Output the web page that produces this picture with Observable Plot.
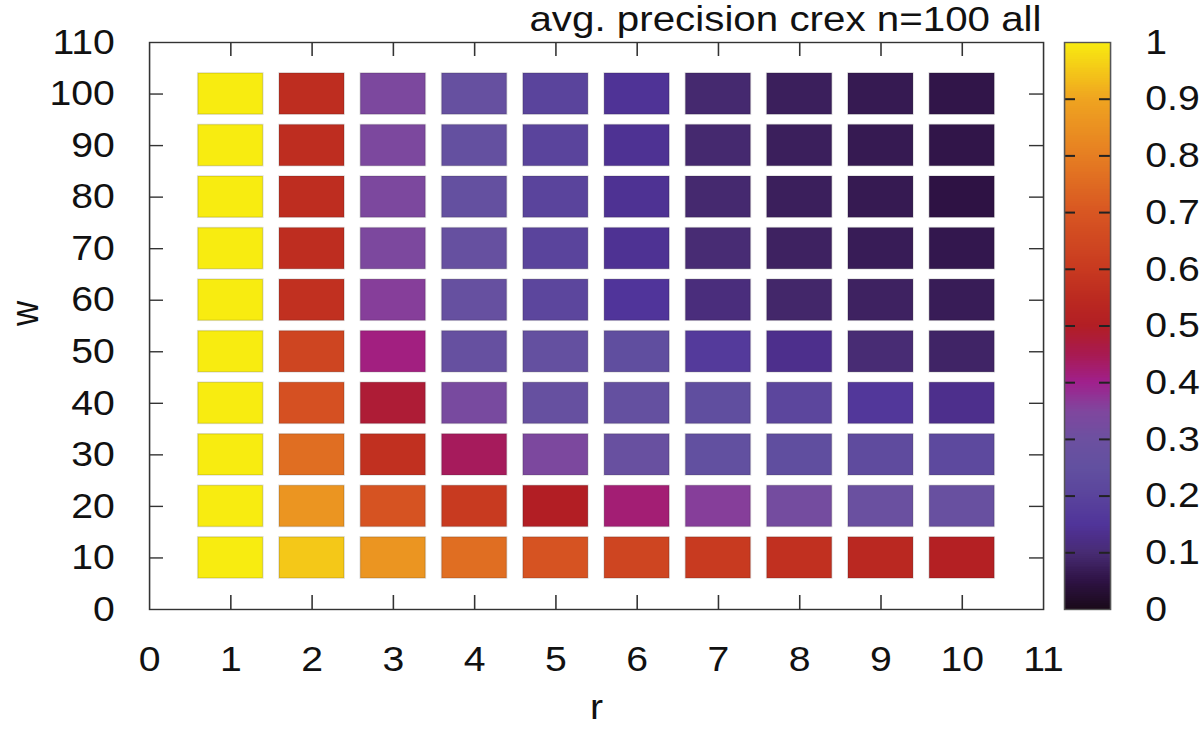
<!DOCTYPE html>
<html>
<head>
<meta charset="utf-8">
<script src="https://cdn.jsdelivr.net/npm/d3@7"></script>
<script src="https://cdn.jsdelivr.net/npm/@observablehq/plot@0.6"></script>
<style>
  html, body { margin: 0; padding: 0; background: #fff; overflow: hidden; }
  #wrap { position: relative; width: 1200px; height: 736px; overflow: hidden; }
  #wrap svg { position: absolute; left: 0; top: 0; transform-origin: 0 0; }
</style>
</head>
<body>
<div id="wrap"></div>
<script>
// ---- data ----
const chartTitle = "avg. precision crex n=100 all";
const xLabel = "r";
const yLabel = "w";
const rValues = [1, 2, 3, 4, 5, 6, 7, 8, 9, 10];
const wValues = [10, 20, 30, 40, 50, 60, 70, 80, 90, 100];
// precision per row (w), listed for r = 1..10
const precW10  = [1.00, 0.95, 0.86, 0.76, 0.69, 0.64, 0.60, 0.57, 0.54, 0.51];
const precW20  = [1.00, 0.86, 0.69, 0.60, 0.50, 0.42, 0.36, 0.32, 0.29, 0.28];
const precW30  = [1.00, 0.76, 0.57, 0.44, 0.34, 0.28, 0.25, 0.24, 0.23, 0.22];
const precW40  = [1.00, 0.68, 0.48, 0.33, 0.27, 0.26, 0.24, 0.21, 0.16, 0.13];
const precW50  = [1.00, 0.64, 0.41, 0.27, 0.26, 0.24, 0.17, 0.13, 0.10, 0.085];
const precW60  = [1.00, 0.57, 0.36, 0.27, 0.21, 0.15, 0.11, 0.09, 0.08, 0.07];
const precW70  = [1.00, 0.56, 0.34, 0.27, 0.20, 0.14, 0.10, 0.08, 0.07, 0.06];
const precW80  = [1.00, 0.56, 0.34, 0.26, 0.20, 0.14, 0.095, 0.075, 0.065, 0.05];
const precW90  = [1.00, 0.56, 0.34, 0.26, 0.20, 0.14, 0.095, 0.075, 0.065, 0.055];
const precW100 = [1.00, 0.56, 0.34, 0.27, 0.20, 0.145, 0.095, 0.075, 0.065, 0.055];
const precRows = [precW10, precW20, precW30, precW40, precW50, precW60, precW70, precW80, precW90, precW100];

const xTickLabels = [0, 1, 2, 3, 4, 5, 6, 7, 8, 9, 10, 11];
const xTickMarks = [1, 2, 3, 4, 5, 6, 7, 8, 9, 10];
const yTickLabels = [0, 10, 20, 30, 40, 50, 60, 70, 80, 90, 100, 110];
const yTickMarks = [10, 20, 30, 40, 50, 60, 70, 80, 90, 100];
const cbTickLabels = ["0", "0.1", "0.2", "0.3", "0.4", "0.5", "0.6", "0.7", "0.8", "0.9", "1"];
const cbTickMarks = [0.1, 0.2, 0.3, 0.4, 0.5, 0.6, 0.7, 0.8, 0.9];

const paletteStops  = [0, 0.05, 0.1, 0.125, 0.15, 0.2, 0.25, 0.3, 0.35, 0.4, 0.45, 0.5, 0.55, 0.6, 0.7, 0.8, 0.9, 0.95, 1];
const paletteColors = ["#1a0a1a", "#2e1244", "#482c74", "#4c2e88", "#50349a", "#5a449c", "#6250a0", "#6c50a0", "#80469e",
                       "#a0208c", "#a81a50", "#b21e24", "#bc2a20", "#c83a20", "#d85622", "#e67e22", "#efa420",
                       "#f4c818", "#f8ec10"];

// ---- build table ----
const cells = [];
wValues.forEach((w, i) => rValues.forEach((r, j) => cells.push({r, w, v: precRows[i][j]})));
const nSteps = 300;
const barSteps = d3.range(0, nSteps).map(i => i / nSteps);

// The reference is horizontally stretched: draw narrower and stretch with CSS.
const S = 1.12;
const W = 1200, H = 736;
const mL = 149, mR = 157, mT = 42, mB = 127;          // final pixel margins
const frameW = (W - mL - mR) / S, frameH = H - mT - mB;
const tickLenV = 14, tickLenH = 14 / S;
const font = "'Liberation Sans', Arial, Helvetica, sans-serif";
const colorOpts = {type: "linear", domain: paletteStops, range: paletteColors, interpolate: "rgb", clamp: true};

const main = Plot.plot({
  width: W / S, height: H,
  marginLeft: mL / S, marginRight: mR / S, marginTop: mT, marginBottom: mB,
  style: {fontFamily: font, fontSize: "35px", color: "#111", background: "transparent", overflow: "visible"},
  x: {domain: [0, 11]},
  y: {domain: [0, 110]},
  color: colorOpts,
  marks: [
    Plot.rect(cells, {x1: d => d.r - 0.4, x2: d => d.r + 0.4, y1: d => d.w - 4, y2: d => d.w + 4,
      fill: "v", stroke: "#000", strokeOpacity: 0.13, strokeWidth: 1.5}),
    Plot.tickX(xTickMarks, {x: d => d, insetTop: frameH - tickLenV, stroke: "#333", strokeWidth: 1.4}),
    Plot.tickX(xTickMarks, {x: d => d, insetBottom: frameH - tickLenV, stroke: "#333", strokeWidth: 1.4}),
    Plot.tickY(yTickMarks, {y: d => d, insetRight: frameW - tickLenH, stroke: "#333", strokeWidth: 1.4}),
    Plot.tickY(yTickMarks, {y: d => d, insetLeft: frameW - tickLenH, stroke: "#333", strokeWidth: 1.4}),
    Plot.axisX({ticks: xTickLabels, tickSize: 0, tickPadding: 37, tickFormat: d => String(d), label: null, fontSize: 35}),
    Plot.axisY({ticks: yTickLabels, tickSize: 0, tickPadding: 31, tickFormat: d => String(d), label: null, fontSize: 35}),
    Plot.frame({stroke: "#333", strokeWidth: 1.4}),
    Plot.text([xLabel], {frameAnchor: "bottom", dy: 110, fontSize: 35}),
    Plot.text([yLabel], {frameAnchor: "left", dx: -(mL - 25) / S, rotate: -90, fontSize: 35}),
    Plot.text([chartTitle], {frameAnchor: "top-right", dy: -11, dx: -2 / S, textAnchor: "end", lineAnchor: "bottom", fontSize: 36})
  ]
});

const cbL = 1064, cbR = 1110;
const cbW = (cbR - cbL) / S;
const bar = Plot.plot({
  width: W / S, height: H,
  marginLeft: cbL / S, marginRight: (W - cbR) / S, marginTop: mT, marginBottom: mB,
  style: {fontFamily: font, fontSize: "35px", color: "#111", background: "transparent", overflow: "visible"},
  y: {domain: [0, 1]},
  color: colorOpts,
  marks: [
    Plot.rect(barSteps, {y1: d => d, y2: d => Math.min(1, d + 2.5 / nSteps), fill: d => d + 0.5 / nSteps, shapeRendering: "crispEdges"}),
    Plot.tickY(cbTickMarks, {y: d => d, insetRight: cbW - 11 / S, stroke: "#222", strokeWidth: 2}),
    Plot.tickY(cbTickMarks, {y: d => d, insetLeft: cbW - 11 / S, stroke: "#222", strokeWidth: 2}),
    Plot.axisY({anchor: "right", ticks: cbTickLabels.map(Number), tickSize: 0, tickPadding: 31,
      tickFormat: d => cbTickLabels[Math.round(d * 10)], label: null, fontSize: 35}),
    Plot.frame({stroke: "#555", strokeWidth: 1.4})
  ]
});

const wrap = document.getElementById("wrap");
for (const svg of [main, bar]) {
  svg.style.transform = `scaleX(${S})`;
  wrap.appendChild(svg);
}
</script>
</body>
</html>
